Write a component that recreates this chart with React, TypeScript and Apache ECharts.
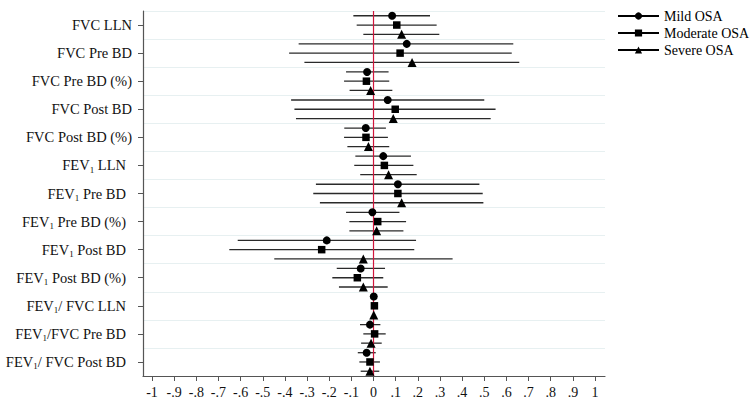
import React, { useEffect, useRef } from "react";
import * as echarts from "echarts";

const categories = [
  "FVC LLN",
  "FVC Pre BD",
  "FVC Pre BD (%)",
  "FVC Post BD",
  "FVC Post BD (%)",
  "FEV1 LLN",
  "FEV1 Pre BD",
  "FEV1 Pre BD (%)",
  "FEV1 Post BD",
  "FEV1 Post BD (%)",
  "FEV1/ FVC LLN",
  "FEV1/FVC Pre BD",
  "FEV1/ FVC Post BD",
];

const seriesNames = ["Mild OSA", "Moderate OSA", "Severe OSA"];

const mildEst = [0.084, 0.15, -0.029, 0.064, -0.035, 0.044, 0.11, -0.005, -0.211, -0.058, 0.001, -0.016, -0.031];
const mildLo = [-0.091, -0.338, -0.124, -0.372, -0.132, -0.082, -0.26, -0.124, -0.613, -0.166, -0.005, -0.061, -0.071];
const mildHi = [0.255, 0.631, 0.068, 0.5, 0.056, 0.169, 0.478, 0.117, 0.192, 0.052, 0.008, 0.031, 0.01];

const modEst = [0.105, 0.12, -0.032, 0.098, -0.034, 0.049, 0.11, 0.019, -0.234, -0.073, 0.004, 0.005, -0.016];
const modLo = [-0.076, -0.381, -0.133, -0.357, -0.133, -0.087, -0.272, -0.109, -0.651, -0.186, -0.002, -0.046, -0.064];
const modHi = [0.285, 0.624, 0.071, 0.551, 0.065, 0.18, 0.493, 0.147, 0.184, 0.044, 0.011, 0.055, 0.029];

const sevEst = [0.127, 0.174, -0.013, 0.089, -0.023, 0.068, 0.127, 0.014, -0.046, -0.046, 0.001, -0.011, -0.016];
const sevLo = [-0.046, -0.312, -0.108, -0.35, -0.118, -0.06, -0.242, -0.109, -0.448, -0.156, -0.005, -0.056, -0.058];
const sevHi = [0.297, 0.658, 0.085, 0.529, 0.071, 0.195, 0.496, 0.135, 0.357, 0.064, 0.008, 0.037, 0.026];

const xTicks = [-1, -0.9, -0.8, -0.7, -0.6, -0.5, -0.4, -0.3, -0.2, -0.1, 0, 0.1, 0.2, 0.3, 0.4, 0.5, 0.6, 0.7, 0.8, 0.9, 1];

const refLineX = [0];

const FONT = '"Liberation Serif", "Times New Roman", serif';

export default function App() {
  const ref = useRef<HTMLDivElement>(null);

  useEffect(() => {
    if (!ref.current) return;
    const chart = echarts.init(ref.current, undefined, { renderer: "svg" });

    const groups = [
      { name: seriesNames[0], est: mildEst, lo: mildLo, hi: mildHi, off: -0.33, symbol: "circle", size: 8 },
      { name: seriesNames[1], est: modEst, lo: modLo, hi: modHi, off: 0.0, symbol: "rect", size: 7.5 },
      { name: seriesNames[2], est: sevEst, lo: sevLo, hi: sevHi, off: 0.33, symbol: "triangle", size: 9 },
    ];

    const series: any[] = [];
    groups.forEach((g) => {
      series.push({
        type: "custom",
        name: g.name + " CI",
        xAxisIndex: 0,
        yAxisIndex: 1,
        z: 2,
        silent: true,
        encode: { x: [0, 1], y: 2 },
        data: g.lo.map((lo, i) => [lo, g.hi[i], i + 0.5 + g.off]),
        renderItem: (params: any, api: any) => {
          const p1 = api.coord([api.value(0), api.value(2)]);
          const p2 = api.coord([api.value(1), api.value(2)]);
          return {
            type: "line",
            shape: { x1: p1[0], y1: p1[1], x2: p2[0], y2: p2[1] },
            style: { stroke: "#2a2a2a", lineWidth: 1.3 },
          };
        },
      });
    });

    series.push({
      type: "custom",
      name: "zero",
      xAxisIndex: 0,
      yAxisIndex: 1,
      z: 3,
      silent: true,
      encode: { x: 0 },
      data: refLineX.map((v) => [v]),
      renderItem: (params: any, api: any) => {
        const p1 = api.coord([api.value(0), 0]);
        const p2 = api.coord([api.value(0), 13]);
        return {
          type: "line",
          shape: { x1: p1[0], y1: p1[1], x2: p2[0], y2: p2[1] },
          style: { stroke: "#d0163c", lineWidth: 1.2 },
        };
      },
    });

    groups.forEach((g) => {
      series.push({
        type: "scatter",
        name: g.name + " est",
        xAxisIndex: 0,
        yAxisIndex: 1,
        z: 4,
        symbol: g.symbol,
        symbolSize: g.size,
        itemStyle: { color: "#000", opacity: 1 },
        data: g.est.map((v, i) => [v, i + 0.5 + g.off]),
      });
    });

    groups.forEach((g) => {
      series.push({
        type: "line",
        name: g.name,
        xAxisIndex: 0,
        yAxisIndex: 1,
        symbol: g.symbol,
        symbolSize: g.size,
        itemStyle: { color: "#000" },
        lineStyle: { color: "#000", width: 1.3 },
        data: [],
      });
    });

    const fmtY = (v: string) => {
      if (v.indexOf("FEV1") === 0) {
        return "{a|FEV}{sub|1}{a|" + v.slice(4) + "}{gap|}";
      }
      return "{a|" + v + "}";
    };

    const fmtX = (v: number) => {
      const r = Math.round(v * 10) / 10;
      if (r === 0) return "0";
      return r.toString().replace("0.", ".");
    };

    chart.setOption({
      animation: false,
      backgroundColor: "#fff",
      textStyle: { fontFamily: FONT },
      legend: {
        orient: "vertical",
        left: 612,
        top: 4,
        itemWidth: 41,
        itemHeight: 9,
        itemGap: 3,
        data: seriesNames,
        textStyle: { fontFamily: FONT, fontSize: 14, color: "#000" },
        selectedMode: false,
      },
      grid: { left: 143, top: 11, right: 145, bottom: 26, containLabel: false },
      xAxis: {
        type: "value",
        min: -1.0406,
        max: 1.045,
        splitLine: { show: false },
        axisLine: { show: true, onZero: false, lineStyle: { color: "#555", width: 1.2 } },
        axisTick: { show: true, length: 5, customValues: xTicks, lineStyle: { color: "#555" } },
        axisLabel: {
          customValues: xTicks,
          formatter: fmtX,
          fontFamily: FONT,
          fontSize: 14,
          color: "#111",
          margin: 9,
        },
      },
      yAxis: [
        {
          type: "category",
          inverse: true,
          data: categories,
          axisLine: { show: true, onZero: false, lineStyle: { color: "#555", width: 1.2 } },
          axisTick: { show: true, alignWithLabel: true, length: 5, lineStyle: { color: "#555" } },
          splitLine: { show: true, lineStyle: { color: "#e7f0f1", width: 1.2 } },
          axisLabel: {
            margin: 11,
            formatter: fmtY,
            rich: {
              a: { fontFamily: FONT, fontSize: 14.5, color: "#111", lineHeight: 18 },
              sub: { fontFamily: FONT, fontSize: 9, color: "#111", lineHeight: 9, verticalAlign: "bottom" },
              gap: { width: 6 },
            },
          },
        },
        {
          type: "value",
          inverse: true,
          min: 0,
          max: 13,
          show: false,
        },
      ],
      series,
    });

    return () => chart.dispose();
  }, []);

  return <div ref={ref} style={{ width: 750, height: 402, position: "absolute", left: 0, top: 0 }} />;
}
